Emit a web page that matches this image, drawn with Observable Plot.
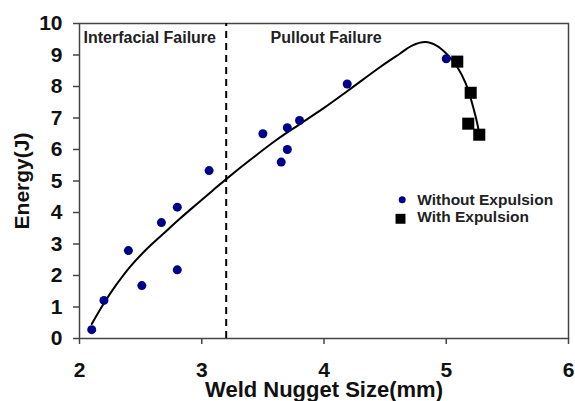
<!DOCTYPE html>
<html>
<head>
<meta charset="utf-8">
<script src="https://cdn.jsdelivr.net/npm/d3@7"></script>
<script src="https://cdn.jsdelivr.net/npm/@observablehq/plot@0.6"></script>
<style>
  html, body { margin: 0; padding: 0; background: #fff; }
</style>
</head>
<body>
<div id="chart"></div>
<script>
// Data
const withoutX = [2.10, 2.20, 2.40, 2.51, 2.67, 2.80, 2.80, 3.06, 3.50, 3.65, 3.70, 3.70, 3.80, 4.19, 5.00];
const withoutY = [0.28, 1.21, 2.79, 1.68, 3.68, 4.17, 2.18, 5.33, 6.50, 5.60, 6.00, 6.69, 6.92, 8.08, 8.88];
const withX = [5.09, 5.20, 5.18, 5.27];
const withY = [8.79, 7.80, 6.82, 6.47];
const curveX = [2.10, 2.20, 2.30, 2.41, 2.55, 2.69, 2.82, 2.96, 3.09, 3.20, 3.40, 3.61, 3.80, 4.00, 4.20, 4.46, 4.62, 4.72, 4.83, 4.92, 5.00, 5.09, 5.16, 5.22, 5.26, 5.27];
const curveY = [0.46, 1.12, 1.70, 2.26, 2.84, 3.34, 3.80, 4.27, 4.70, 5.06, 5.68, 6.30, 6.80, 7.32, 7.88, 8.62, 9.04, 9.30, 9.41, 9.30, 9.05, 8.62, 8.09, 7.35, 6.71, 6.45];
const boundaryX = [3.2];
const regionLabels = ["Interfacial Failure", "Pullout Failure"];
const seriesNames = ["Without Expulsion", "With Expulsion"];
const xTicks = [2, 3, 4, 5, 6];
const yTicks = [0, 1, 2, 3, 4, 5, 6, 7, 8, 9, 10];
const xTitle = "Weld Nugget Size(mm)";
const yTitle = "Energy(J)";

const withoutPts = withoutX.map((x, i) => ({x, y: withoutY[i]}));
const withPts = withX.map((x, i) => ({x, y: withY[i]}));
const curvePts = curveX.map((x, i) => ({x, y: curveY[i]}));

const font = "Liberation Sans, Arial, Helvetica, sans-serif";
const blue = "#00008b";

const chart = Plot.plot({
  width: 575,
  height: 401,
  marginLeft: 79,
  marginRight: 7,
  marginTop: 23,
  marginBottom: 63,
  style: {fontFamily: font, fontWeight: "bold", color: "#111", background: "#fff"},
  x: {domain: [2, 6]},
  y: {domain: [0, 10]},
  marks: [
    Plot.frame({stroke: "#444", strokeWidth: 1.5}),
    Plot.axisX({ticks: xTicks, tickFormat: d => String(d), tickSize: 6, tickPadding: 18, fontSize: 21, fontWeight: "bold", label: null, stroke: "#444", strokeWidth: 1.5}),
    Plot.axisY({ticks: yTicks, tickFormat: d => String(d), tickSize: 6, tickPadding: 11, fontSize: 21, fontWeight: "bold", label: null, stroke: "#444", strokeWidth: 1.5}),
    Plot.ruleX(boundaryX, {y1: 0, y2: 10, stroke: "#000", strokeWidth: 2, strokeDasharray: "7,5"}),
    Plot.line(curvePts, {x: "x", y: "y", curve: "catmull-rom", stroke: "#000", strokeWidth: 2}),
    Plot.dot(withoutPts, {x: "x", y: "y", r: 4.5, fill: blue, stroke: "none"}),
    Plot.dot(withPts, {x: "x", y: "y", r: 6.8, symbol: "square", fill: "#000", stroke: "none"}),
    // region labels
    Plot.text([regionLabels[0]], {text: d => d, frameAnchor: "top-left", textAnchor: "start", lineAnchor: "middle", dx: 4, dy: 14.2, fontSize: 16, fontWeight: "bold", fill: "#222"}),
    Plot.text([regionLabels[1]], {text: d => d, frameAnchor: "top-left", textAnchor: "start", lineAnchor: "middle", dx: 191, dy: 14.2, fontSize: 16, fontWeight: "bold", fill: "#222"}),
    // legend
    Plot.dot([seriesNames[0]], {frameAnchor: "top-left", dx: 322.7, dy: 176.3, r: 3.5, fill: blue, stroke: "none"}),
    Plot.dot([seriesNames[1]], {frameAnchor: "top-left", dx: 321, dy: 195.3, r: 5.6, symbol: "square", fill: "#000", stroke: "none"}),
    Plot.text([seriesNames[0]], {text: d => d, frameAnchor: "top-left", textAnchor: "start", lineAnchor: "middle", dx: 337.7, dy: 176.2, fontSize: 15.5, fontWeight: "bold", fill: "#222"}),
    Plot.text([seriesNames[1]], {text: d => d, frameAnchor: "top-left", textAnchor: "start", lineAnchor: "middle", dx: 337.7, dy: 193.8, fontSize: 15.5, fontWeight: "bold", fill: "#222"}),
    // axis titles
    Plot.text([xTitle], {text: d => d, frameAnchor: "bottom", textAnchor: "middle", lineAnchor: "middle", dy: 51, fontSize: 22, fontWeight: "bold", fill: "#111"}),
    Plot.text([yTitle], {text: d => d, frameAnchor: "left", textAnchor: "middle", lineAnchor: "middle", dx: -57.4, rotate: -90, fontSize: 21, fontWeight: "bold", fill: "#111"})
  ]
});
document.getElementById("chart").append(chart);
</script>
</body>
</html>
